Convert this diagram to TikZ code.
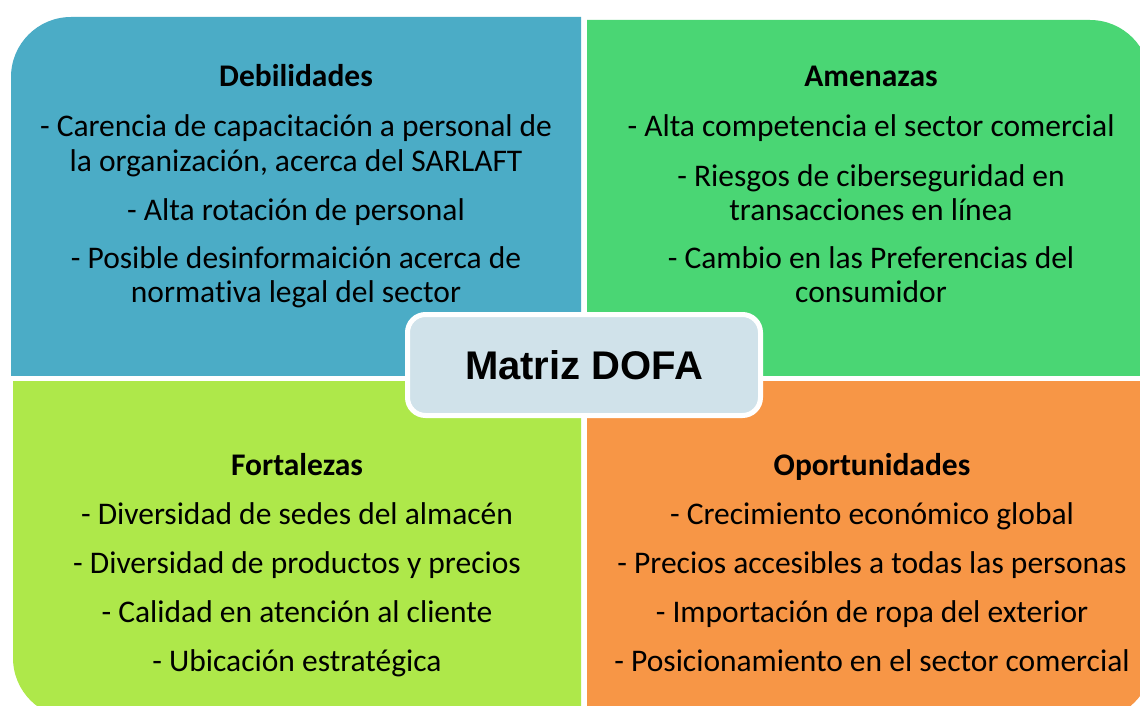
\documentclass[tikz,border=0pt]{standalone}
\usepackage{fontspec}
\setmainfont[Ligatures=NoCommon]{Carlito}
\newfontfamily\hfont{Liberation Sans}
\definecolor{qblue}{RGB}{75,172,198}
\definecolor{qgreen}{RGB}{74,214,116}
\definecolor{qlime}{RGB}{174,232,74}
\definecolor{qorange}{RGB}{247,150,70}
\definecolor{qbox}{RGB}{208,226,234}
\tikzset{
  ln/.style={anchor=base, inner sep=0pt, font=\fontsize{31.5}{34}\selectfont},
  ttl/.style={ln, font=\fontsize{31.5}{34}\selectfont\bfseries},
  centerbox/.style={draw=white, line width=5pt, fill=qbox, rounded corners=18pt,
    minimum width=353pt, minimum height=101pt, inner sep=0pt,
    font=\hfont\bfseries\fontsize{40}{44}\selectfont}
}
\begin{document}
\begin{tikzpicture}[x=1pt,y=-1pt]
\useasboundingbox (0,0) rectangle (1140,706);
\clip (0,0) rectangle (1140,706);
\fill[white] (0,0) rectangle (1140,706);
% quadrants
\begin{scope}
  \clip (11,17) rectangle (581,375);
  \fill[qblue, rounded corners=60pt] (11,17) rectangle (900,700);
\end{scope}
\begin{scope}
  \clip (587,20) rectangle (1150,375);
  \fill[qgreen, rounded corners=60pt] (250,20) rectangle (1150,700);
\end{scope}
\begin{scope}
  \clip (13,381) rectangle (581,718);
  \fill[qlime, rounded corners=60pt] (13,50) rectangle (900,718);
\end{scope}
\begin{scope}
  \clip (587,381) rectangle (1152,720);
  \fill[qorange, rounded corners=60pt] (250,50) rectangle (1152,720);
\end{scope}
% Debilidades
\node[ttl] (d0) at (296,87) {Debilidades};
\node[ln] (d1) at (296,137) {- Carencia de capacitación a personal de};
\node[ln] (d2) at (296,171) {la organización, acerca del SARLAFT};
\node[ln] (d3) at (296,220) {- Alta rotación de personal};
\node[ln] (d4) at (296,268) {- Posible desinformaición acerca de};
\node[ln] (d5) at (296,302) {normativa legal del sector};
% Amenazas
\node[ttl] (a0) at (871,87) {Amenazas};
\node[ln] (a1) at (871,137) {- Alta competencia el sector comercial};
\node[ln] (a2) at (871,186) {- Riesgos de ciberseguridad en};
\node[ln] (a3) at (871,220) {transacciones en línea};
\node[ln] (a4) at (871,268) {- Cambio en las Preferencias del};
\node[ln] (a5) at (871,302) {consumidor};
% Fortalezas
\node[ttl] (f0) at (297,475) {Fortalezas};
\node[ln] (f1) at (297,524) {- Diversidad de sedes del almacén};
\node[ln] (f2) at (297,573) {- Diversidad de productos y precios};
\node[ln] (f3) at (297,622) {- Calidad en atención al cliente};
\node[ln] (f4) at (297,671) {- Ubicación estratégica};
% Oportunidades
\node[ttl] (o0) at (872,475) {Oportunidades};
\node[ln] (o1) at (872,524) {- Crecimiento económico global};
\node[ln] (o2) at (872,573) {- Precios accesibles a todas las personas};
\node[ln] (o3) at (872,622) {- Importación de ropa del exterior};
\node[ln] (o4) at (872,671) {- Posicionamiento en el sector comercial};
% center
\node[centerbox] (dofa) at (584,365) {Matriz DOFA};
\end{tikzpicture}
\end{document}
